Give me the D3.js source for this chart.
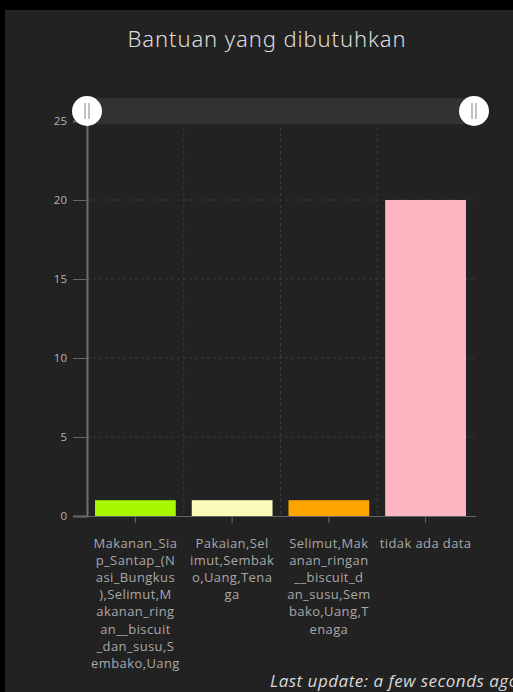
<!DOCTYPE html>
<html>
<head>
<meta charset="utf-8">
<script src="https://cdn.jsdelivr.net/npm/d3@7"></script>
<style>
  html, body { margin: 0; padding: 0; background: #000; }
  svg { display: block; }
</style>
</head>
<body>
<svg id="chart" width="513" height="692"></svg>
<script>
// data
var categories = [
  "Makanan_Siap_Santap_(Nasi_Bungkus),Selimut,Makanan_ringan__biscuit_dan_susu,Sembako,Uang",
  "Pakaian,Selimut,Sembako,Uang,Tenaga",
  "Selimut,Makanan_ringan__biscuit_dan_susu,Sembako,Uang,Tenaga",
  "tidak ada data"
];
var values = [1, 1, 1, 20];
var barColors = ["#a8f600", "#fdfcbb", "#fea500", "#ffb6c1"];
var yTicks = [0, 5, 10, 15, 20, 25];

var svg = d3.select("#chart");

// panel
svg.append("rect").attr("x", 5).attr("y", 10).attr("width", 508).attr("height", 682).attr("fill", "#222222");

svg.append("text")
  .attr("x", 267).attr("y", 47)
  .attr("text-anchor", "middle")
  .attr("fill", "#dcdcdc")
  .style("font-family", "Noto Sans").style("font-weight", 300).style("font-size", "22px")
  .style("letter-spacing", "0.9px")
  .text("Bantuan yang dibutuhkan");

var margin = {left: 87, right: 474, top: 121, bottom: 516};

var xScale = d3.scaleBand().domain(categories).range([margin.left, margin.right]).paddingInner(0.165).paddingOuter(0.083);
var yScale = d3.scaleLinear().domain([0, 25]).range([margin.bottom, margin.top]);

// gridlines
svg.append("g").selectAll("line.vgrid")
  .data(categories.slice(1))
  .enter().append("line")
  .attr("x1", function(d) { return xScale(d) - (xScale.step() - xScale.bandwidth()) / 2; })
  .attr("x2", function(d) { return xScale(d) - (xScale.step() - xScale.bandwidth()) / 2; })
  .attr("y1", margin.top).attr("y2", margin.bottom)
  .attr("stroke", "#3a3a3a").attr("stroke-dasharray", "3,3");

svg.append("g").selectAll("line.hgrid")
  .data(yTicks.slice(1))
  .enter().append("line")
  .attr("x1", margin.left).attr("x2", margin.right)
  .attr("y1", function(d) { return yScale(d); })
  .attr("y2", function(d) { return yScale(d); })
  .attr("stroke", "#3a3a3a").attr("stroke-dasharray", "3,3");

// bars
svg.append("g").selectAll("rect")
  .data(values)
  .enter().append("rect")
  .attr("x", function(d, i) { return xScale(categories[i]); })
  .attr("y", function(d) { return yScale(d); })
  .attr("width", xScale.bandwidth())
  .attr("height", function(d) { return yScale(0) - yScale(d); })
  .attr("fill", function(d, i) { return barColors[i]; });

// y axis
var yAxis = svg.append("g")
  .attr("transform", "translate(" + margin.left + ",0)")
  .call(d3.axisLeft(yScale).tickValues(yTicks).tickSize(14).tickPadding(6));
yAxis.select(".domain").attr("stroke", "#6e6e6e").attr("stroke-width", 2);
yAxis.selectAll(".tick line").attr("stroke", "#666");
yAxis.selectAll(".tick text").attr("fill", "#b4b4b4")
  .style("font-family", "Open Sans").style("font-size", "11.5px");

// x axis
var xAxis = svg.append("g")
  .attr("transform", "translate(0," + margin.bottom + ")")
  .call(d3.axisBottom(xScale).tickSize(7).tickFormat(""));
xAxis.select(".domain").attr("stroke", "#666").attr("d", "M" + (margin.left - 14) + ",0.5H" + (margin.right + 2));
xAxis.selectAll(".tick line").attr("stroke", "#666");

// wrap labels: words longer than 11 chars broken into chunks
function wrapLabel(s) {
  if (s.indexOf(" ") >= 0) return [s];
  var out = [];
  for (var i = 0; i < s.length; i += 11) out.push(s.slice(i, i + 11));
  return out;
}

var labels = svg.append("g").selectAll("text")
  .data(categories)
  .enter().append("text")
  .attr("text-anchor", "middle")
  .attr("fill", "#a8a8a8")
  .style("font-family", "Open Sans").style("font-size", "13px")
  .style("letter-spacing", "0.4px");

labels.each(function(d) {
  var t = d3.select(this);
  var cx = xScale(d) + xScale.bandwidth() / 2;
  wrapLabel(d).forEach(function(line, i) {
    t.append("tspan").attr("x", cx).attr("y", 548 + i * 17.1).text(line);
  });
});

// scrollbar
svg.append("rect").attr("x", margin.left).attr("y", 98).attr("width", margin.right - margin.left).attr("height", 26).attr("fill", "#323232");
[margin.left, margin.right].forEach(function(hx) {
  var g = svg.append("g").attr("transform", "translate(" + hx + ",111)");
  g.append("circle").attr("r", 15).attr("fill", "#ffffff");
  g.append("line").attr("x1", -2).attr("x2", -2).attr("y1", -8).attr("y2", 8).attr("stroke", "#999").attr("stroke-width", 1.2);
  g.append("line").attr("x1", 2).attr("x2", 2).attr("y1", -8).attr("y2", 8).attr("stroke", "#999").attr("stroke-width", 1.2);
});

svg.append("text")
  .attr("x", 270).attr("y", 687)
  .attr("fill", "#d8d8d8")
  .style("font-family", "Open Sans").style("font-style", "italic").style("font-size", "17px")
  .style("letter-spacing", "0.5px")
  .text("Last update: a few seconds ago");
</script>
</body>
</html>
